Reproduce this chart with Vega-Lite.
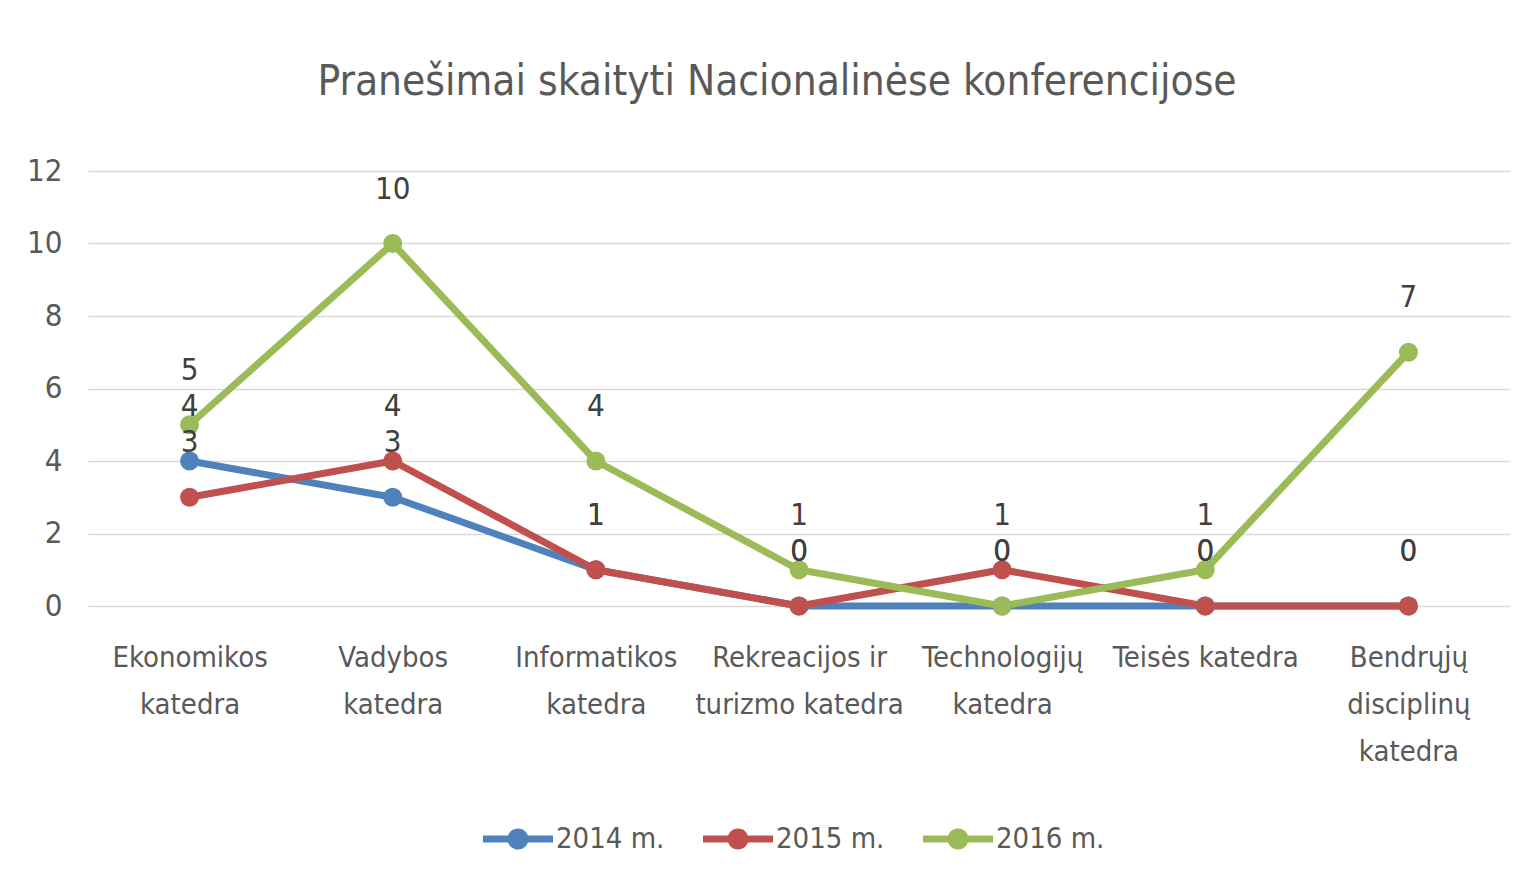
{
  "$schema": "https://vega.github.io/schema/vega-lite/v6.json",
  "width": 1422,
  "height": 435,
  "autosize": "none",
  "padding": {"left": 88, "top": 171, "right": 24, "bottom": 288},
  "background": "#ffffff",
  "config": {"view": {"stroke": null}},
  "title": {
    "text": "Pranešimai skaityti Nacionalinėse konferencijose",
    "font": "DejaVu Sans Condensed, sans-serif",
    "fontSize": 42,
    "fontWeight": "normal",
    "color": "#595959",
    "anchor": "middle",
    "offset": 51,
    "dx": -22
  },
  "data": {
    "values": [
      {"katedra": "Ekonomikos katedra", "metai": "2014 m.", "value": 4},
      {"katedra": "Vadybos katedra", "metai": "2014 m.", "value": 3},
      {"katedra": "Informatikos katedra", "metai": "2014 m.", "value": 1},
      {"katedra": "Rekreacijos ir turizmo katedra", "metai": "2014 m.", "value": 0},
      {"katedra": "Technologijų katedra", "metai": "2014 m.", "value": 0},
      {"katedra": "Teisės katedra", "metai": "2014 m.", "value": 0},
      {"katedra": "Bendrųjų disciplinų katedra", "metai": "2014 m.", "value": 0},
      {"katedra": "Ekonomikos katedra", "metai": "2015 m.", "value": 3},
      {"katedra": "Vadybos katedra", "metai": "2015 m.", "value": 4},
      {"katedra": "Informatikos katedra", "metai": "2015 m.", "value": 1},
      {"katedra": "Rekreacijos ir turizmo katedra", "metai": "2015 m.", "value": 0},
      {"katedra": "Technologijų katedra", "metai": "2015 m.", "value": 1},
      {"katedra": "Teisės katedra", "metai": "2015 m.", "value": 0},
      {"katedra": "Bendrųjų disciplinų katedra", "metai": "2015 m.", "value": 0},
      {"katedra": "Ekonomikos katedra", "metai": "2016 m.", "value": 5},
      {"katedra": "Vadybos katedra", "metai": "2016 m.", "value": 10},
      {"katedra": "Informatikos katedra", "metai": "2016 m.", "value": 4},
      {"katedra": "Rekreacijos ir turizmo katedra", "metai": "2016 m.", "value": 1},
      {"katedra": "Technologijų katedra", "metai": "2016 m.", "value": 0},
      {"katedra": "Teisės katedra", "metai": "2016 m.", "value": 1},
      {"katedra": "Bendrųjų disciplinų katedra", "metai": "2016 m.", "value": 7}
    ]
  },
  "encoding": {
    "x": {
      "field": "katedra",
      "type": "nominal",
      "sort": null,
      "scale": {"type": "point", "padding": 0.5},
      "axis": {
        "title": null,
        "labelAngle": 0,
        "domain": false,
        "ticks": false,
        "grid": false,
        "labelFont": "DejaVu Sans Condensed, sans-serif",
        "labelFontSize": 29,
        "labelColor": "#595959",
        "labelPadding": 37,
        "labelLineHeight": 47,
        "labelLimit": 400,
        "labelExpr": "datum.label == 'Ekonomikos katedra' ? ['Ekonomikos','katedra'] : datum.label == 'Vadybos katedra' ? ['Vadybos','katedra'] : datum.label == 'Informatikos katedra' ? ['Informatikos','katedra'] : datum.label == 'Rekreacijos ir turizmo katedra' ? ['Rekreacijos ir','turizmo katedra'] : datum.label == 'Technologijų katedra' ? ['Technologijų','katedra'] : datum.label == 'Bendrųjų disciplinų katedra' ? ['Bendrųjų','disciplinų','katedra'] : datum.label"
      }
    },
    "y": {
      "field": "value",
      "type": "quantitative",
      "scale": {"domain": [0, 12]},
      "axis": {
        "title": null,
        "values": [0, 2, 4, 6, 8, 10, 12],
        "domain": false,
        "ticks": false,
        "grid": true,
        "gridColor": "#d9d9d9",
        "gridWidth": 1.5,
        "labelFont": "DejaVu Sans Condensed, sans-serif",
        "labelFontSize": 31,
        "labelColor": "#595959",
        "labelPadding": 26
      }
    },
    "color": {
      "field": "metai",
      "type": "nominal",
      "scale": {"domain": ["2014 m.", "2015 m.", "2016 m."], "range": ["#4F81BD", "#C0504D", "#9BBB59"]},
      "legend": {
        "title": null,
        "orient": "none",
        "direction": "horizontal",
        "legendX": 395,
        "legendY": 633,
        "symbolType": "M-1,-0.1H1V0.1H-1Z M0.3,0 A0.3,0.3 0 1,1 -0.3,0 A0.3,0.3 0 1,1 0.3,0Z",
        "symbolSize": 4900,
        "symbolStrokeWidth": 0,
        "labelFont": "DejaVu Sans Condensed, sans-serif",
        "labelFontSize": 29,
        "labelColor": "#595959",
        "labelOffset": 3,
        "columnPadding": 38,
        "encode": {
          "symbols": {"update": {"fill": {"scale": "color", "field": "value"}, "fillOpacity": {"value": 1}, "strokeWidth": {"value": 0}}}
        }
      }
    }
  },
  "layer": [
    {"mark": {"type": "line", "strokeWidth": 7, "strokeCap": "round", "strokeJoin": "round"}},
    {"mark": {"type": "point", "filled": true, "opacity": 1, "size": 360}},
    {
      "mark": {"type": "text", "dy": -54, "fontSize": 31, "color": "#404040", "font": "DejaVu Sans Condensed, sans-serif"},
      "encoding": {"text": {"field": "value", "type": "quantitative"}, "color": {"value": "#404040"}}
    }
  ]
}
